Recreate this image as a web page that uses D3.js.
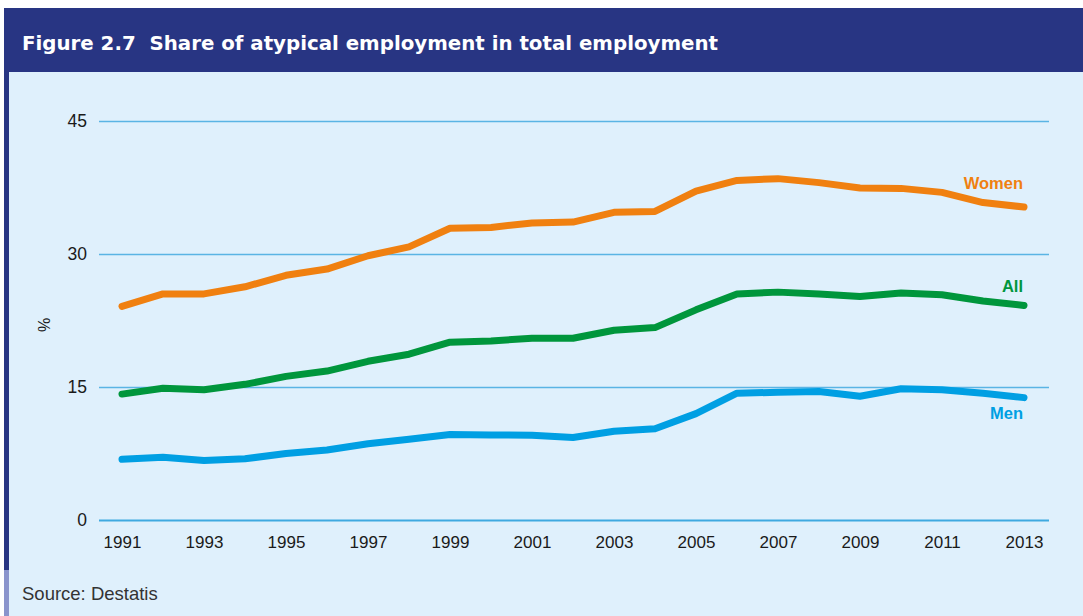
<!DOCTYPE html>
<html>
<head>
<meta charset="utf-8">
<script src="https://cdn.jsdelivr.net/npm/d3@7"></script>
<style>
  html, body { margin: 0; padding: 0; background: #ffffff; }
  svg { display: block; }
</style>
</head>
<body>
<div id="chart"></div>
<script>
// Share of atypical employment, % of total employment, 1991–2013
const years = d3.range(1991, 2014);
const women = [24.1, 25.5, 25.5, 26.3, 27.6, 28.3, 29.8, 30.8, 32.9, 33.0, 33.5, 33.6, 34.7, 34.8, 37.1, 38.3, 38.5, 38.05, 37.45, 37.4, 36.95, 35.8, 35.3];
const all   = [14.2, 14.85, 14.7, 15.3, 16.2, 16.8, 17.9, 18.7, 20.05, 20.2, 20.5, 20.5, 21.4, 21.7, 23.7, 25.5, 25.7, 25.5, 25.2, 25.6, 25.4, 24.7, 24.2];
const men   = [6.85, 7.07, 6.7, 6.9, 7.5, 7.9, 8.6, 9.1, 9.65, 9.6, 9.55, 9.3, 10.0, 10.3, 12.0, 14.3, 14.4, 14.5, 13.95, 14.8, 14.7, 14.3, 13.8];
const yTicks = [0, 15, 30, 45];
const xTicks = [1991, 1993, 1995, 1997, 1999, 2001, 2003, 2005, 2007, 2009, 2011, 2013];

const series = [
  { name: "Women", values: women, color: "#f08010" },
  { name: "All",   values: all,   color: "#00963c" },
  { name: "Men",   values: men,   color: "#009fe3" }
];

const FONT = "Liberation Sans, Arial, Helvetica, sans-serif";
const W = 1083, H = 616;
const svg = d3.select("#chart").append("svg").attr("width", W).attr("height", H);

// panel background and header band
svg.append("rect").attr("x", 4).attr("y", 72).attr("width", W - 4).attr("height", H - 72).attr("fill", "#dff0fc");
svg.append("rect").attr("x", 4).attr("y", 8).attr("width", W - 4).attr("height", 64).attr("fill", "#283583");
svg.append("rect").attr("x", 4).attr("y", 72).attr("width", 5).attr("height", 498).attr("fill", "#283583");
svg.append("rect").attr("x", 4).attr("y", 570).attr("width", 5).attr("height", H - 570).attr("fill", "#8a94cc");

svg.append("text")
  .attr("x", 22).attr("y", 50)
  .attr("fill", "#ffffff")
  .attr("font-family", "DejaVu Sans, Verdana, sans-serif")
  .attr("font-weight", "bold")
  .attr("font-size", 20.3)
  .attr("textLength", 696)
  .attr("lengthAdjust", "spacingAndGlyphs")
  .attr("xml:space", "preserve")
  .text("Figure 2.7  Share of atypical employment in total employment");

const x = d3.scaleLinear().domain([1991, 2013]).range([122, 1024]);
const y = d3.scaleLinear().domain([0, 45]).range([520, 121]);

// horizontal gridlines
const grid = svg.append("g")
  .attr("transform", "translate(99,0)")
  .call(d3.axisLeft(y).tickValues(yTicks).tickSize(-950).tickFormat(""));
grid.select(".domain").remove();
grid.selectAll(".tick line")
  .attr("stroke", d => d === 0 ? "#3fa9e0" : "#5ab4e4")
  .attr("stroke-width", d => d === 0 ? 2 : 1.5);

// y tick labels
const yAxis = svg.append("g")
  .attr("transform", "translate(87,0)")
  .call(d3.axisLeft(y).tickValues(yTicks).tickSize(0).tickPadding(0));
yAxis.select(".domain").remove();
yAxis.selectAll("text")
  .attr("font-family", FONT)
  .attr("font-size", 17.5)
  .attr("fill", "#1a1a1a");

// x tick labels
const xAxis = svg.append("g")
  .attr("transform", "translate(0,536)")
  .call(d3.axisBottom(x).tickValues(xTicks).tickFormat(d3.format("d")).tickSize(0).tickPadding(0));
xAxis.select(".domain").remove();
xAxis.selectAll("text")
  .attr("font-family", FONT)
  .attr("font-size", 17)
  .attr("fill", "#1a1a1a");

// y axis unit
svg.append("text")
  .attr("transform", "translate(50,325) rotate(-90)")
  .attr("text-anchor", "middle")
  .attr("font-family", FONT)
  .attr("font-size", 16)
  .attr("fill", "#1a1a1a")
  .text("%");

// series lines
const line = d3.line().x((d, i) => x(years[i])).y(d => y(d));
svg.append("g").selectAll("path")
  .data(series)
  .join("path")
  .attr("d", d => line(d.values))
  .attr("fill", "none")
  .attr("stroke", d => d.color)
  .attr("stroke-width", 7)
  .attr("stroke-linecap", "round")
  .attr("stroke-linejoin", "round");

// series labels at the right end
const labelY = { Women: 189, All: 292, Men: 419 };
svg.append("g").selectAll("text")
  .data(series)
  .join("text")
  .attr("x", 1023)
  .attr("y", d => labelY[d.name])
  .attr("text-anchor", "end")
  .attr("font-family", FONT)
  .attr("font-weight", "bold")
  .attr("font-size", 16.5)
  .attr("fill", d => d.color)
  .text(d => d.name);

svg.append("text")
  .attr("x", 22).attr("y", 600)
  .attr("font-family", FONT)
  .attr("font-size", 18.5)
  .attr("fill", "#333333")
  .text("Source: Destatis");
</script>
</body>
</html>
